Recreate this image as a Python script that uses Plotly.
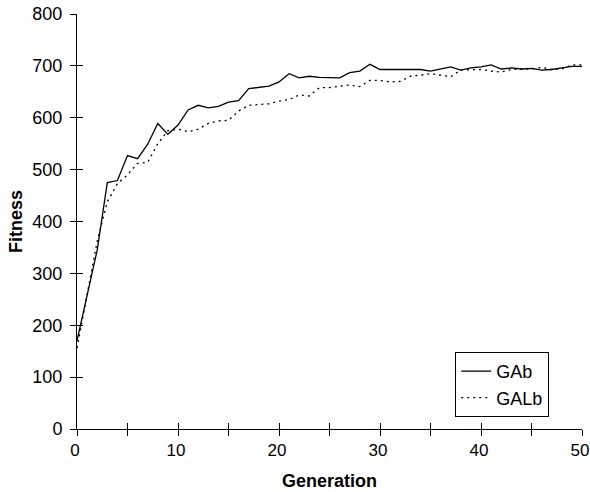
import plotly.graph_objects as go

generations = list(range(0, 51))
gab = [170, 255, 345, 475, 479, 527, 521, 549, 589, 568, 586, 615, 624, 619, 622, 630,
       633, 656, 658, 661, 669, 685, 677, 680, 678, 677, 677, 687, 690, 703, 693,
       693, 693, 692, 693, 690, 694, 698, 692, 696, 698, 702, 694, 696, 694, 695,
       692, 693, 696, 699, 699]
galb = [156, 262, 362, 438, 473, 490, 512, 514, 550, 575, 578, 573, 578, 589, 594, 595,
        613, 624, 626, 627, 632, 635, 644, 642, 658, 658, 661, 663, 660, 672, 672,
        669, 670, 680, 682, 685, 682, 679, 692, 693, 693, 690, 688, 693, 693, 694,
        697, 693, 694, 702, 702]
x_tickvals = [0, 5, 10, 15, 20, 25, 30, 35, 40, 45, 50]
x_ticktext = ["0", "", "10", "", "20", "", "30", "", "40", "", "50"]
y_tickvals = [0, 100, 200, 300, 400, 500, 600, 700, 800]

FONT = "Liberation Sans, Arial, sans-serif"

fig = go.Figure()
fig.add_trace(go.Scatter(x=generations, y=gab, mode="lines", name="GAb",
                         line=dict(color="black", width=1.3)))
fig.add_trace(go.Scatter(x=generations, y=galb, mode="lines", name="GALb",
                         line=dict(color="black", width=1.3, dash="2px,4px")))
# empty trace to hold overlay axes (inside half of crossing ticks)
fig.add_trace(go.Scatter(x=[], y=[], xaxis="x2", yaxis="y2", showlegend=False,
                         hoverinfo="skip"))

common = dict(showgrid=False, zeroline=False, showline=True, linecolor="black",
              linewidth=1, tickcolor="black", tickwidth=1, ticklen=6,
              automargin=False)

fig.update_layout(
    width=590, height=492,
    margin=dict(l=77, r=8, t=14, b=63),
    paper_bgcolor="white", plot_bgcolor="white",
    font=dict(family=FONT, size=18, color="black"),
    xaxis=dict(range=[0, 50], tickvals=x_tickvals, ticktext=x_ticktext,
               ticks="outside", ticklabeloverflow="allow", ticklabelshift=-2,
               tickfont=dict(size=17),
               title=dict(text="<b>Generation</b>", font=dict(size=18), standoff=14),
               **common),
    yaxis=dict(range=[0, 800], tickvals=y_tickvals, ticks="outside",
               ticklabeloverflow="allow", ticklabelstandoff=4,
               title=dict(text="<b>Fitness</b>", font=dict(size=18), standoff=5),
               **common),
    xaxis2=dict(range=[0, 50], tickvals=x_tickvals, showticklabels=False,
                ticks="inside", overlaying="x", anchor="y2", **common),
    yaxis2=dict(range=[0, 800], tickvals=y_tickvals, showticklabels=False,
                ticks="inside", overlaying="y", anchor="x2", **common),
    legend=dict(x=0.749, y=0.1855, xanchor="left", yanchor="top",
                bordercolor="black", borderwidth=1, bgcolor="white",
                font=dict(size=18), itemwidth=30, tracegroupgap=0),
    showlegend=True,
)

fig.write_html("out.html", config={"displayModeBar": False})

# remove the default body margin so the figure fills the window exactly
with open("out.html", "r", encoding="utf-8") as f:
    html = f.read()
html = html.replace("<head>", "<head><style>html,body{margin:0;padding:0;overflow:hidden;}</style>", 1)
with open("out.html", "w", encoding="utf-8") as f:
    f.write(html)
